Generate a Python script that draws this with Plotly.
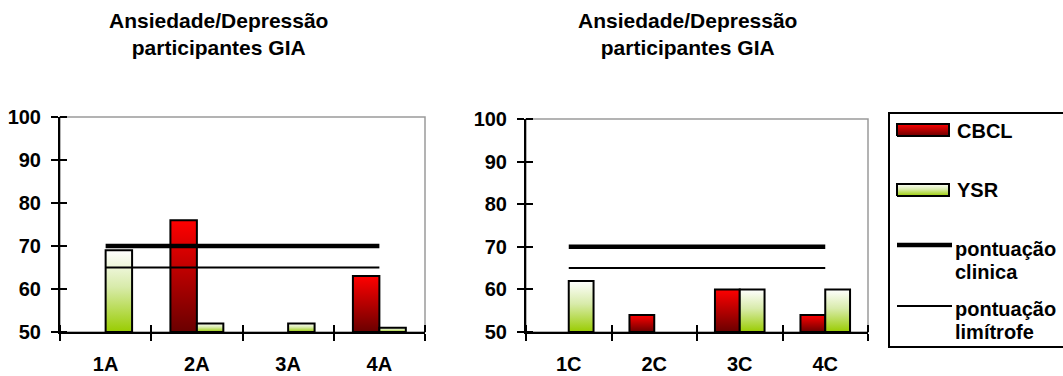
import plotly.graph_objects as go

# Participant groups and their T-scores (Ansiedade/Depressão scale)
categorias_A = ["1A", "2A", "3A", "4A"]
cbcl_A = [None, 76, None, 63]
ysr_A = [69, 52, 52, 51]

categorias_C = ["1C", "2C", "3C", "4C"]
cbcl_C = [None, 54, 60, 54]
ysr_C = [62, None, 60, 60]

# Cut-off scores
pontuacao_clinica = 70
pontuacao_limitrofe = 65

y_ticks = [50, 60, 70, 80, 90, 100]
titulo = "Ansiedade/Depressão<br>participantes GIA"

W, H = 1063, 376
FONT = "Liberation Sans, Arial, sans-serif"
BASE = 50
BAR_W = 0.29

CBCL_SCALE = [[0, "#6a0000"], [1, "#ff0000"]]
YSR_SCALE = [[0, "#99cc00"], [0.55, "#d8ebaa"], [1, "#ffffff"]]

fig = go.Figure()


def add_bars(values, left, scale, xa, ya):
    """One gradient-filled rectangle per value, placed beside the category centre."""
    for i, v in enumerate(values):
        if v is None:
            continue
        x0 = i - BAR_W if left else i
        x1 = x0 + BAR_W
        fig.add_trace(go.Scatter(
            x=[x0, x0, x1, x1, x0], y=[BASE, v, v, BASE, BASE],
            mode="lines", fill="toself",
            fillgradient=dict(type="vertical", colorscale=scale),
            line=dict(color="black", width=2),
            xaxis=xa, yaxis=ya, showlegend=False, hoverinfo="skip"))


def add_cutoffs(n, xa, ya):
    fig.add_trace(go.Scatter(
        x=[0, n - 1], y=[pontuacao_clinica] * 2, mode="lines",
        line=dict(color="black", width=4.5), xaxis=xa, yaxis=ya,
        showlegend=False, hoverinfo="skip"))
    fig.add_trace(go.Scatter(
        x=[0, n - 1], y=[pontuacao_limitrofe] * 2, mode="lines",
        line=dict(color="black", width=2), xaxis=xa, yaxis=ya,
        showlegend=False, hoverinfo="skip"))


# Left panel (grupo A) and right panel (grupo C)
add_bars(cbcl_A, True, CBCL_SCALE, "x", "y")
add_bars(ysr_A, False, YSR_SCALE, "x", "y")
add_cutoffs(len(categorias_A), "x3", "y")

add_bars(cbcl_C, True, CBCL_SCALE, "x2", "y2")
add_bars(ysr_C, False, YSR_SCALE, "x2", "y2")
add_cutoffs(len(categorias_C), "x4", "y2")

tick_font = dict(family=FONT, size=20, color="black", weight="bold")


def x_ticks_axis(domain, anchor, n):
    bounds = [i - 0.5 for i in range(n + 1)]
    return dict(
        domain=domain, anchor=anchor, range=[-0.5, n - 0.5],
        showline=True, linecolor="black", linewidth=2,
        tickmode="array", tickvals=bounds, showticklabels=False,
        ticks="outside", ticklen=7, tickwidth=2, tickcolor="black",
        minor=dict(tickmode="array", tickvals=bounds, ticks="inside",
                   ticklen=7, tickwidth=2, tickcolor="black", showgrid=False),
        showgrid=False, zeroline=False, fixedrange=True, automargin=False)


def x_label_axis(base, anchor, cats):
    return dict(
        overlaying=base, anchor=anchor, range=[-0.5, len(cats) - 0.5],
        tickmode="array", tickvals=list(range(len(cats))), ticktext=cats,
        ticks="", showline=False, showgrid=False, zeroline=False,
        tickfont=tick_font, ticklabelstandoff=18, fixedrange=True,
        automargin=False)


def y_axis(domain, anchor):
    return dict(
        domain=domain, anchor=anchor, range=[BASE, 100],
        tickmode="array", tickvals=y_ticks,
        showline=True, linecolor="black", linewidth=2,
        ticks="outside", ticklen=7, tickwidth=2, tickcolor="black",
        minor=dict(tickmode="array", tickvals=y_ticks, ticks="inside",
                   ticklen=7, tickwidth=2, tickcolor="black", showgrid=False),
        showgrid=False, zeroline=False, tickfont=tick_font,
        ticklabelstandoff=6, fixedrange=True, automargin=False)


# Legend drawn on its own hidden axes (coordinates in pixels, measured upward)
leg_x = [889, 1063]
leg_y = [29, 263]


def up(py):
    return H - py


def legend_swatch(y_top, y_bot, scale):
    x0, x1 = 897, 949
    fig.add_trace(go.Scatter(
        x=[x0, x0, x1, x1, x0], y=[up(y_bot), up(y_top), up(y_top), up(y_bot), up(y_bot)],
        mode="lines", fill="toself",
        fillgradient=dict(type="vertical", colorscale=scale),
        line=dict(color="black", width=2), xaxis="x5", yaxis="y5",
        showlegend=False, hoverinfo="skip"))


def legend_line(py, width):
    fig.add_trace(go.Scatter(
        x=[897, 952], y=[up(py), up(py)], mode="lines",
        line=dict(color="black", width=width), xaxis="x5", yaxis="y5",
        showlegend=False, hoverinfo="skip"))


legend_swatch(124, 136, CBCL_SCALE)
legend_swatch(184, 196, YSR_SCALE)
legend_line(245, 4.5)
legend_line(306, 2)

legend_text = [
    ("CBCL", 955, 131), ("YSR", 955, 190),
    ("pontuação", 953, 249), ("clinica", 953, 272),
    ("pontuação", 953, 309), ("limítrofe", 953, 332),
]

annotations = []
for txt, px, py in legend_text:
    annotations.append(dict(
        text=txt, xref="paper", yref="paper", x=px / W, y=up(py) / H,
        xanchor="left", yanchor="middle", showarrow=False,
        font=dict(family=FONT, size=20, color="black", weight="bold")))

for cx in (218, 687):
    annotations.append(dict(
        text=titulo, xref="paper", yref="paper", x=cx / W, y=up(34) / H,
        xanchor="center", yanchor="middle", showarrow=False, align="center",
        font=dict(family=FONT, size=21, color="black", weight="bold")))

shapes = []
for xr, yr in (("x domain", "y domain"), ("x2 domain", "y2 domain")):
    shapes.append(dict(type="rect", xref=xr, yref=yr, x0=0, x1=1, y0=0, y1=1,
                       line=dict(color="#9a9a9a", width=1.5), layer="below"))
shapes.append(dict(type="rect", xref="paper", yref="paper",
                   x0=leg_x[0] / W, x1=1.01, y0=leg_y[0] / H, y1=leg_y[1] / H,
                   line=dict(color="black", width=2), layer="below"))

fig.update_layout(
    width=W, height=H,
    margin=dict(l=0, r=0, t=0, b=0, autoexpand=False),
    paper_bgcolor="white", plot_bgcolor="white",
    showlegend=False,
    xaxis=x_ticks_axis([60 / W, 425 / W], "y", len(categorias_A)),
    xaxis2=x_ticks_axis([526 / W, 868 / W], "y2", len(categorias_C)),
    xaxis3=x_label_axis("x", "y", categorias_A),
    xaxis4=x_label_axis("x2", "y2", categorias_C),
    yaxis=y_axis([up(332) / H, up(117) / H], "x"),
    yaxis2=y_axis([up(332) / H, up(119) / H], "x2"),
    xaxis5=dict(domain=[leg_x[0] / W, 1], range=leg_x, visible=False,
                anchor="y5", fixedrange=True),
    yaxis5=dict(domain=[leg_y[0] / H, leg_y[1] / H], range=leg_y, visible=False,
                anchor="x5", fixedrange=True),
    annotations=annotations,
    shapes=shapes,
)

fig.write_html("out.html")
